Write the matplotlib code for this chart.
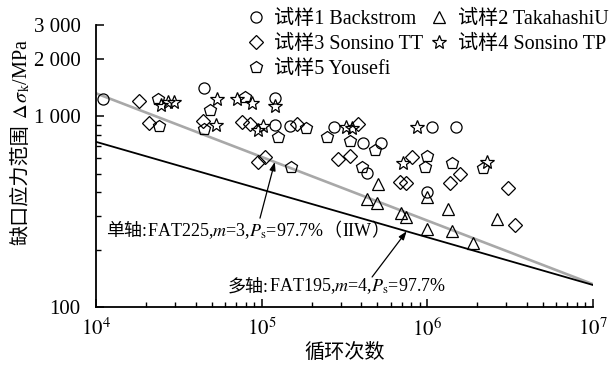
import numpy as np
import matplotlib
matplotlib.use("Agg")
import matplotlib.pyplot as plt

plt.rcParams['font.family'] = ['Liberation Serif', 'Noto Sans CJK SC']
plt.rcParams['mathtext.fontset'] = 'stix'
plt.rcParams['axes.unicode_minus'] = False

# ---------------- data ----------------
backstrom_N = [1.1e4, 4.49e4, 1.2e5, 1.2e5, 1.48e5, 2.73e5, 4.09e5, 5.25e5, 1.07e6, 1.49e6, 4.3e5, 1.0e6]
backstrom_S = [1227, 1402, 1250, 897, 887, 875, 722, 722, 875, 875, 502, 400]

takahashi_N = [5.04e5, 4.32e5, 5.0e5, 6.9e5, 7.4e5, 1.0e6, 1.33e6, 9.95e5, 1.41e6, 1.88e6, 2.63e6]
takahashi_S = [440, 368, 350, 310, 296, 377, 326, 256, 250, 216, 289]

sonsino_tt_N = [1.82e4, 2.09e4, 4.4e4, 7.6e4, 8.5e4, 9.5e4, 1.05e5, 1.63e5, 3.8e5, 2.89e5,
                3.4e5, 8.07e5, 6.8e5, 7.4e5, 1.37e6, 1.57e6, 3.06e6, 3.38e6]
sonsino_tt_S = [1198, 919, 940, 930, 905, 574, 610, 908, 908, 595,
                617, 610, 451, 446, 446, 500, 420, 269]

sonsino_tp_N = [2.47e4, 2.72e4, 2.96e4, 5.37e4, 5.3e4, 7.1e4, 8.7e4, 1.2e5, 9.5e4, 1.02e5,
                3.23e5, 3.5e5, 8.65e5, 7.1e5, 2.29e6]
sonsino_tp_S = [1142, 1184, 1184, 1227, 897, 1227, 1170, 1128, 845, 887,
                875, 865, 875, 567, 574]

yousefi_N = [2.37e4, 2.4e4, 4.87e4, 4.5e4, 7.9e4, 1.25e5, 1.85e5, 2.48e5, 3.41e5, 4.83e5,
             4.03e5, 9.95e5, 9.67e5, 1.41e6, 2.17e6, 1.51e5]
yousefi_S = [1227, 887, 1075, 855, 1259, 776, 865, 776, 739, 664,
             541, 617, 541, 567, 535, 541]

line_N = [1e4, 1e7]
iiw_S = [1316, 131.6]        # uniaxial FAT225, m=3
multi_S = [733, 130.4]       # multiaxial FAT195, m=4

legend_labels = ['试样1 Backstrom', '试样2 TakahashiU', '试样3 Sonsino TT',
                 '试样4 Sonsino TP', '试样5 Yousefi']
ytick_vals = [100, 1000, 2000, 3000]
ytick_labels = ['100', '1 000', '2 000', '3 000']
xtick_vals = [1e4, 1e5, 1e6, 1e7]
xtick_labels = [r'$10^{4}$', r'$10^{5}$', r'$10^{6}$', r'$10^{7}$']

# ---------------- figure ----------------
fig = plt.figure(figsize=(6.16, 3.67), dpi=100)
ax = fig.add_axes([96/616, 1-307/367, (593-96)/616, (307-25)/367])
ax.set_xscale('log')
ax.set_yscale('log')
ax.set_xlim(1e4, 1e7)
ax.set_ylim(100, 3000)

ax.plot(line_N, iiw_S, color='#a8a8a8', lw=1.9, zorder=2)
ax.plot(line_N, multi_S, color='black', lw=1.3, zorder=2)

mk = dict(linestyle='none', markerfacecolor='none', markeredgecolor='black', markeredgewidth=0.9, zorder=3)
h1, = ax.plot(backstrom_N, backstrom_S, marker='o', markersize=8, **mk)
h2, = ax.plot(takahashi_N, takahashi_S, marker='^', markersize=9, **mk)
h3, = ax.plot(sonsino_tt_N, sonsino_tt_S, marker='D', markersize=7, **mk)
h4, = ax.plot(sonsino_tp_N, sonsino_tp_S, marker='*', markersize=10, **mk)
h5, = ax.plot(yousefi_N, yousefi_S, marker='p', markersize=9, **mk)

handles = [h1, h3, h5, h2, h4]
labels = [legend_labels[0], legend_labels[2], legend_labels[4], legend_labels[1], legend_labels[3]]
leg = fig.legend(handles, labels, ncol=2, loc='upper left', bbox_to_anchor=(246/616, 1-10/367),
                 frameon=False, fontsize=14.5, handlelength=1.0, handletextpad=0.4,
                 columnspacing=0.3, labelspacing=0.3, borderaxespad=0, borderpad=0)

# spines & ticks
for s in ['top', 'right']:
    ax.spines[s].set_visible(False)
for s in ['left', 'bottom']:
    ax.spines[s].set_linewidth(1.3)
ax.set_yticks(ytick_vals)
ax.set_yticklabels(ytick_labels)
ax.set_yticks([200, 300, 400, 500, 600, 700, 800, 900], minor=True)
ax.yaxis.set_minor_formatter(matplotlib.ticker.NullFormatter())
ax.set_xticks(xtick_vals)
ax.set_xticklabels(xtick_labels)
ax.tick_params(axis='both', which='major', direction='in', length=6, width=1.1, labelsize=15, pad=8)
ax.tick_params(axis='both', which='minor', direction='in', length=3.5, width=1.0)
ax.tick_params(axis='y', which='major', pad=11)

ax.set_xlabel('循环次数', fontsize=14.5, labelpad=2)

# y label in two parts (CJK + math)
yl1 = fig.text(22/616, 1-245/367, '缺口应力范围', fontsize=14.5, rotation=90,
               ha='center', va='bottom')
ax.annotate(r' $\Delta\,\sigma_{\rm k}$/MPa', xy=(22/616, 1), xycoords=('figure fraction', yl1),
            fontsize=14.5, rotation=90, ha='center', va='bottom', annotation_clip=False)

# annotations
def on_line(N, ys):
    t = (np.log10(N) - np.log10(line_N[0])) / (np.log10(line_N[1]) - np.log10(line_N[0]))
    return 10 ** (np.log10(ys[0]) + t * (np.log10(ys[1]) - np.log10(ys[0])))

def multi_part(x, y, pieces, size=13):
    prev = ax.text(x, y, pieces[0], fontsize=size, ha='left', va='baseline')
    for p in pieces[1:]:
        prev = ax.annotate(p, xy=(1, y), xycoords=(prev, 'data'), fontsize=size,
                           ha='left', va='baseline', annotation_clip=False)

multi_part(1.15e4, 236, ['单轴:', r'FAT225,$m$=3,$P_{\rm s}$=97.7%', '（', 'IIW', '）'])
ax.annotate('', xy=(1.2e5, on_line(1.2e5, iiw_S)), xytext=(9.77e4, 292),
            arrowprops=dict(arrowstyle='-|>,head_length=0.5,head_width=0.18', color='black', lw=0.9,
                            shrinkA=0, shrinkB=0))
multi_part(6.27e4, 121, ['多轴:', r'FAT195,$m$=4,$P_{\rm s}$=97.7%'])
ax.annotate('', xy=(7.5e5, on_line(7.5e5, multi_S)), xytext=(4.64e5, 143.6),
            arrowprops=dict(arrowstyle='-|>,head_length=0.5,head_width=0.18', color='black', lw=0.9,
                            shrinkA=0, shrinkB=0))

fig.savefig('out.png', dpi=100)
